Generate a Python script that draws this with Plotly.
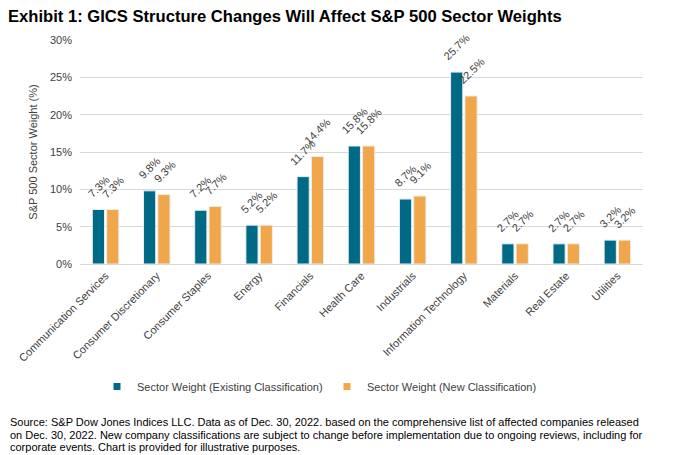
import plotly.graph_objects as go

categories = ["Communication Services", "Consumer Discretionary", "Consumer Staples", "Energy",
              "Financials", "Health Care", "Industrials", "Information Technology",
              "Materials", "Real Estate", "Utilities"]
existing = [7.3, 9.8, 7.2, 5.2, 11.7, 15.8, 8.7, 25.7, 2.7, 2.7, 3.2]
new = [7.3, 9.3, 7.7, 5.2, 14.4, 15.8, 9.1, 22.5, 2.7, 2.7, 3.2]
series_names = ["Sector Weight (Existing Classification)", "Sector Weight (New Classification)"]
y_ticks = [0, 5, 10, 15, 20, 25, 30]
y_tick_labels = ["0%", "5%", "10%", "15%", "20%", "25%", "30%"]
source_lines = [
    "Source: S&P Dow Jones Indices LLC. Data as of Dec. 30, 2022. based on the comprehensive list of affected companies released",
    "on Dec. 30, 2022. New company classifications are subject to change before implementation due to ongoing reviews, including for",
    "corporate events. Chart is provided for illustrative purposes.",
]

FONT = "Liberation Sans, Arial, sans-serif"
OFF = 8                      # page body margin
W, H = 673 - OFF, 455 - OFF
ML, MR, MT, MB = 80 - OFF, 30, 40 - OFF, 191
PW, PH = W - ML - MR, H - MT - MB
TEAL, ORANGE = "#006A86", "#F2A64A"


def px(rx):   # reference screen x -> paper x
    return (rx - OFF - ML) / PW


def py(ry):   # reference screen y -> paper y
    return (H - MB - (ry - OFF)) / PH


fig = go.Figure()
for name, vals, col in [(series_names[0], existing, TEAL), (series_names[1], new, ORANGE)]:
    fig.add_trace(go.Bar(
        x=categories, y=vals, name=name, showlegend=False,
        marker=dict(color=col, line=dict(color="#e6eef0", width=1)),
    ))
    # legend entries with small square swatches
    fig.add_trace(go.Scatter(
        x=[None], y=[None], mode="markers", name=name,
        marker=dict(symbol="square", size=7, color=col),
    ))

# rotated value labels above the bars
for vals, shift in [(existing, -7.4), (new, 7.4)]:
    for c, v in zip(categories, vals):
        fig.add_annotation(
            x=c, y=v, xref="x", yref="y", text=f"{v:.1f}%", showarrow=False,
            textangle=-45, xanchor="center", yanchor="bottom", xshift=shift, yshift=7,
            font=dict(family=FONT, size=11, color="#404040"),
        )

fig.update_layout(
    width=W, height=H, margin=dict(l=ML, r=MR, t=MT, b=MB, autoexpand=False),
    paper_bgcolor="white", plot_bgcolor="white",
    barmode="group", bargap=0.44, bargroupgap=0.15,
    font=dict(family=FONT, size=11, color="#404040"),
    title=dict(text="<b>Exhibit 1: GICS Structure Changes Will Affect S&P 500 Sector Weights</b>",
               x=0, xanchor="left", xref="container", y=1 - 2 / H, yanchor="top",
               font=dict(family=FONT, size=16.6, color="black")),
    xaxis=dict(tickangle=-45, showline=True, linecolor="#d9d9d9", linewidth=1, automargin=False,
               ticks="", tickfont=dict(family=FONT, size=11, color="#404040")),
    yaxis=dict(range=[0, 30], tickmode="array", tickvals=y_ticks, ticktext=y_tick_labels,
               showgrid=True, automargin=False, ticklabelstandoff=7,
               gridcolor="#d9d9d9", gridwidth=1, zeroline=False, showline=False,
               tickfont=dict(family=FONT, size=11, color="#404040"),
               title=dict(text="S&P 500 Sector Weight (%)",
                          font=dict(family=FONT, size=11, color="#404040"), standoff=10)),
    legend=dict(orientation="h", x=px(97), xanchor="left", y=py(386.5), yanchor="middle",
                entrywidth=185, entrywidthmode="pixels",
                font=dict(family=FONT, size=11, color="#404040"), itemwidth=30, traceorder="normal"),
    showlegend=True,
)

for line, ry in zip(source_lines, [422, 434.5, 447]):
    fig.add_annotation(
        text=line, xref="paper", yref="paper", x=px(OFF), xanchor="left",
        y=py(ry), yanchor="middle", align="left", showarrow=False,
        font=dict(family=FONT, size=11, color="black"),
    )

fig.write_html("out.html")
